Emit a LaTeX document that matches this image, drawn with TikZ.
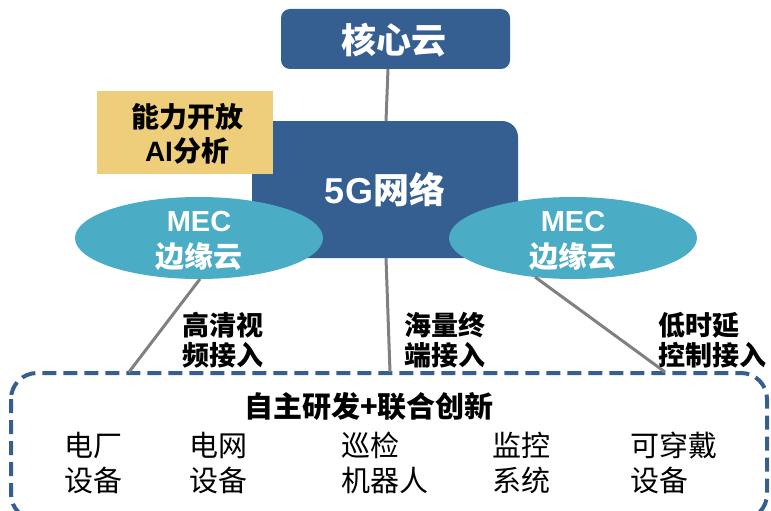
\documentclass[tikz,border=0pt]{standalone}
\usepackage{fontspec}
\usetikzlibrary{shapes.geometric}
\setmainfont{Liberation Sans}
\newfontfamily\cjk{Noto Sans CJK SC}
\newcommand\cjkb{\cjk\bfseries}
\newcommand\arialb{\rmfamily\bfseries}
\definecolor{darkblue}{RGB}{54,95,145}
\definecolor{mecteal}{RGB}{75,172,198}
\definecolor{gold}{RGB}{238,206,122}
\definecolor{linegray}{RGB}{128,128,128}
\tikzset{
  mec/.style={ellipse, fill=mecteal, draw=none, minimum width=248pt, minimum height=82pt, text=white, align=center, inner sep=0pt},
  conn/.style={draw=linegray, line width=3pt},
  lbl/.style={font=\fontsize{27}{30}\cjkb, align=center, inner sep=0pt},
  item/.style={font=\fontsize{29}{35}\cjk, align=left, anchor=west, inner sep=0pt},
}
\begin{document}
\begin{tikzpicture}[x=1pt,y=-1pt]
\useasboundingbox (0,0) rectangle (771,511);
% 5G network box
\fill[darkblue, rounded corners=16pt] (252,121) rectangle (518,258);
% core
\fill[darkblue, rounded corners=9pt] (281,9) rectangle (510,69);
\node[text=white, font=\fontsize{35}{35}\cjkb] (core) at (394,40) {核心云};
\coordinate (coreb) at (388,69);
\coordinate (nett) at (386,121);
\draw[conn] (coreb) -- (nett);
% yellow box
\fill[gold] (97,91) rectangle (273,174);
\node (ai) at (187,134) [font=\fontsize{28}{34}\cjkb, align=center] {能力开放\\{\arialb AI}分析};
% net text
\node[text=white] (net) at (385,190) {\fontsize{36}{36}\arialb 5G\cjkb 网络};
% ellipses
\node[mec] (mecl) at (199,238) {};
\node[mec] (mecr) at (573,238) {};
\node[text=white, font=\fontsize{29}{29}\arialb] (mecl1) at (199,222) {MEC};
\node[text=white, font=\fontsize{29}{29}\cjkb] (mecl2) at (199,257) {边缘云};
\node[text=white, font=\fontsize{29}{29}\arialb] (mecr1) at (573,222) {MEC};
\node[text=white, font=\fontsize{29}{29}\cjkb] (mecr2) at (573,257) {边缘云};
% dashed box
\draw[darkblue, line width=4pt, dash pattern=on 14pt off 7pt, rounded corners=26pt] (11,373) rectangle (767,520);
\coordinate (bl) at (129,372);
\coordinate (bm) at (390,372);
\coordinate (br) at (665,372);
\coordinate (el) at (200,279);
\coordinate (em) at (386,258);
\coordinate (er) at (535,277);
\draw[conn] (el) -- (bl);
\draw[conn] (em) -- (bm);
\draw[conn] (er) -- (br);
% labels
\node[lbl] (l1) at (223,340) {高清视\\频接入};
\node[lbl] (l2) at (445,340) {海量终\\端接入};
\node[lbl, align=left, anchor=west] (l3) at (658,340) {低时延\\控制接入};
\node[font=\fontsize{29}{29}\cjkb] (title) at (369,407) {自主研发+联合创新};
\node[item] (i1) at (64,463) {电厂\\设备};
\node[item] (i2) at (189,463) {电网\\设备};
\node[item] (i3) at (341,463) {巡检\\机器人};
\node[item] (i4) at (492,463) {监控\\系统};
\node[item] (i5) at (630,463) {可穿戴\\设备};
\end{tikzpicture}
\end{document}
